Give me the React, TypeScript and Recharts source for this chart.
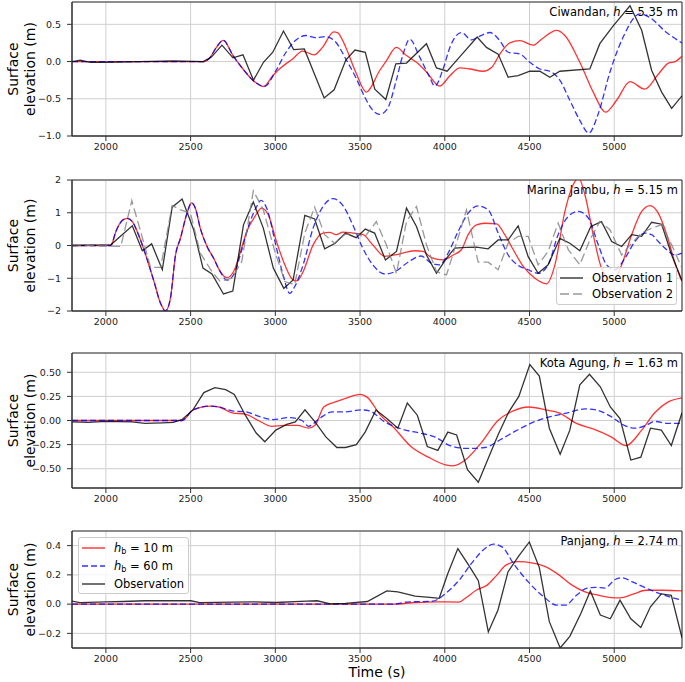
import React from 'react';
import { LineChart, Line, XAxis, YAxis, CartesianGrid, ReferenceArea, Legend } from 'recharts';

type P = [number, number];

// ---------- shared axis data ----------
const xTicks = [2000, 2500, 3000, 3500, 4000, 4500, 5000];
const xDomain: [number, number] = [1800, 5400];

// ---------- Panel 1: Ciwandan ----------
const p1Ticks = [-1, -0.5, 0, 0.5];
const p1TickLabels = ['−1.0', '−0.5', '0.0', '0.5'];
const p1Red: P[] = [[1800,0],[2580,0],[2613,0.05],[2652,0.19],[2693,0.285],[2750,0.08],[2809,-0.1],[2867,-0.25],[2930,-0.335],[2985,-0.19],[3024,-0.1],[3102,0.035],[3161,0.14],[3229,0.09],[3278,0.19],[3345,0.40],[3367,0.39],[3416,0.19],[3474,-0.14],[3537,-0.41],[3616,-0.12],[3655,0.01],[3714,0.19],[3774,0.08],[3833,-0.01],[3892,-0.14],[3970,-0.33],[4030,-0.19],[4089,-0.085],[4148,-0.1],[4226,-0.13],[4276,-0.08],[4325,0.10],[4384,0.25],[4443,0.28],[4522,0.22],[4571,0.30],[4660,0.42],[4709,0.35],[4797,-0.01],[4876,-0.41],[4949,-0.68],[5014,-0.52],[5093,-0.27],[5180,-0.37],[5260,-0.17],[5320,-0.02],[5360,0.0],[5400,0.07]];
const p1Blue: P[] = [[1800,0],[2580,0],[2613,0.05],[2652,0.19],[2693,0.285],[2750,0.08],[2809,-0.1],[2867,-0.25],[2935,-0.335],[3004,-0.12],[3063,0.125],[3122,0.29],[3180,0.35],[3239,0.32],[3298,0.335],[3357,0.26],[3416,0.035],[3474,-0.21],[3533,-0.5],[3570,-0.64],[3616,-0.71],[3660,-0.64],[3714,-0.25],[3754,0.1],[3793,0.30],[3852,0.06],[3911,-0.21],[3941,-0.33],[3990,-0.1],[4030,0.19],[4098,0.39],[4158,0.29],[4197,0.33],[4266,0.39],[4325,0.28],[4374,0.125],[4443,0.10],[4502,-0.01],[4561,-0.1],[4620,-0.13],[4679,-0.25],[4738,-0.52],[4797,-0.79],[4850,-0.96],[4906,-0.70],[4975,-0.14],[5053,0.33],[5152,0.64],[5211,0.59],[5309,0.39],[5400,0.25]];
const p1Obs: P[] = [[1800,0],[1849,0.02],[1908,-0.01],[2000,-0.01],[2200,0.0],[2400,0.01],[2574,0.0],[2623,0.06],[2685,0.22],[2750,0.05],[2809,0.09],[2871,-0.25],[2930,-0.01],[2985,0.125],[3048,0.41],[3108,0.16],[3171,0.17],[3288,-0.49],[3347,-0.38],[3416,0.02],[3470,0.155],[3531,0.125],[3587,-0.37],[3652,-0.51],[3711,-0.03],[3774,-0.02],[3892,0.24],[3951,-0.085],[4014,-0.13],[4079,0.04],[4191,0.33],[4246,0.19],[4315,0.10],[4374,-0.21],[4433,-0.19],[4502,-0.13],[4561,-0.13],[4620,-0.21],[4679,-0.13],[4856,-0.1],[4915,0.24],[4994,0.48],[5053,0.64],[5093,0.75],[5162,0.42],[5221,-0.12],[5280,-0.41],[5339,-0.63],[5400,-0.46]];

// ---------- Panel 2: Marina Jambu ----------
const p2Ticks = [-2, -1, 0, 1, 2];
const p2TickLabels = ['−2', '−1', '0', '1', '2'];
const p2Red: P[] = [[1800,0],[2029,0],[2059,0.43],[2098,0.77],[2127,0.83],[2156,0.73],[2196,0.28],[2235,-0.29],[2284,-1.1],[2323,-1.77],[2352,-2.0],[2381,-1.61],[2411,-0.29],[2440,0.22],[2479,0.99],[2505,1.30],[2528,1.14],[2557,0.53],[2597,-0.03],[2636,-0.39],[2675,-0.8],[2714,-0.98],[2753,-0.8],[2792,-0.23],[2831,0.43],[2880,0.89],[2919,1.14],[2958,0.94],[3007,0.12],[3056,-0.59],[3105,-1.05],[3128,-1.08],[3164,-0.8],[3223,0.02],[3281,0.38],[3320,0.40],[3359,0.33],[3399,0.41],[3457,0.38],[3516,0.34],[3575,0.02],[3646,-0.33],[3724,-0.27],[3823,-0.16],[3872,-0.18],[3921,-0.37],[3990,-0.44],[4049,-0.29],[4098,-0.13],[4138,0.33],[4187,0.63],[4236,0.68],[4305,0.66],[4354,0.33],[4404,-0.13],[4463,-0.64],[4532,-1.0],[4600,-1.17],[4650,-0.59],[4709,1.04],[4758,1.86],[4790,2.06],[4827,1.55],[4876,0.33],[4925,-0.69],[4990,-1.1],[5044,-0.59],[5103,0.33],[5162,1.04],[5211,1.22],[5260,0.99],[5310,0.33],[5359,-0.54],[5400,-1.1]];
const p2Blue: P[] = [[1800,0],[2029,0],[2059,0.43],[2098,0.77],[2127,0.83],[2156,0.73],[2196,0.28],[2235,-0.29],[2284,-1.1],[2323,-1.77],[2352,-2.0],[2381,-1.61],[2411,-0.29],[2440,0.22],[2479,0.99],[2505,1.30],[2528,1.14],[2557,0.53],[2597,-0.03],[2636,-0.39],[2675,-0.8],[2714,-1.06],[2753,-0.9],[2802,-0.13],[2851,0.73],[2890,1.19],[2915,1.38],[2949,1.14],[3007,-0.08],[3046,-0.9],[3085,-1.46],[3114,-1.26],[3164,-0.59],[3223,0.53],[3281,1.19],[3340,1.43],[3399,1.22],[3457,0.63],[3516,-0.08],[3575,-0.59],[3646,-0.87],[3705,-0.8],[3783,-0.51],[3860,-0.32],[3921,-0.54],[3970,-0.59],[4020,-0.23],[4079,0.43],[4138,0.99],[4197,1.21],[4256,1.09],[4315,0.38],[4374,-0.29],[4433,-0.61],[4492,-0.74],[4551,-0.85],[4610,-0.59],[4669,0.33],[4729,0.89],[4788,1.04],[4847,0.84],[4906,0.02],[4955,-0.59],[5004,-0.74],[5063,-0.39],[5122,0.12],[5181,0.38],[5221,0.33],[5260,0.12],[5310,-0.13],[5359,-0.29],[5400,-0.23]];
const p2Obs1: P[] = [[1800,0],[2029,0.02],[2156,0.6],[2215,-0.16],[2270,0.05],[2333,-0.74],[2391,1.17],[2450,1.42],[2518,0.48],[2573,-0.69],[2626,-0.87],[2694,-1.48],[2749,-1.39],[2812,0.63],[2870,1.33],[2929,0.53],[2988,-0.69],[3050,-1.31],[3105,-1.05],[3174,0.92],[3232,0.81],[3291,-0.1],[3353,0.07],[3414,0.38],[3477,0.24],[3531,0.5],[3586,0.38],[3650,-0.44],[3715,-0.18],[3774,1.14],[3833,0.58],[3892,-0.29],[3951,-0.85],[4010,-0.39],[4059,-0.08],[4128,-0.06],[4187,-0.05],[4256,-0.1],[4315,0.17],[4374,0.17],[4433,0.6],[4492,-0.34],[4551,-0.85],[4610,-0.59],[4679,0.22],[4738,0.07],[4797,-0.16],[4862,0.58],[4925,0.73],[4985,0.12],[5044,-0.03],[5103,0.33],[5162,0.28],[5221,0.71],[5280,0.65],[5339,-0.29],[5400,-1.08]];
const p2Obs2: P[] = [[1800,0.02],[2088,-0.03],[2153,1.37],[2205,0.43],[2264,-0.67],[2323,-0.67],[2391,1.22],[2440,1.09],[2499,0.99],[2557,-0.23],[2626,-0.80],[2675,-1.1],[2743,-1.0],[2802,-0.49],[2870,1.67],[2929,1.09],[2997,-0.18],[3056,-1.1],[3114,-1.2],[3174,0.38],[3232,1.17],[3291,0.33],[3350,0.07],[3408,0.33],[3467,0.38],[3526,0.25],[3596,0.73],[3655,0.02],[3715,-0.85],[3774,0.73],[3833,1.19],[3892,0.02],[3951,-0.8],[4010,-0.9],[4069,0.07],[4128,1.09],[4197,-0.51],[4256,-0.51],[4315,-0.74],[4374,0.07],[4433,0.28],[4492,0.28],[4551,-0.59],[4610,-0.18],[4669,0.68],[4729,-0.13],[4797,-0.59],[4856,0.17],[4915,0.73],[4975,0.48],[5044,-0.29],[5103,0.07],[5162,0.38],[5221,0.53],[5280,0.63],[5339,0.02],[5400,-0.69]];

// ---------- Panel 3: Kota Agung ----------
const p3Ticks = [-0.5, -0.25, 0, 0.25, 0.5];
const p3TickLabels = ['−0.50', '−0.25', '0.00', '0.25', '0.50'];
const p3Red: P[] = [[1800,0],[2450,0],[2514,0.11],[2617,0.15],[2668,0.14],[2745,0.08],[2823,0.065],[2900,0.0],[2977,-0.06],[3054,-0.05],[3131,-0.05],[3196,-0.08],[3234,-0.05],[3286,0.14],[3350,0.19],[3414,0.23],[3500,0.27],[3543,0.24],[3620,0.055],[3697,-0.07],[3800,-0.27],[3903,-0.38],[4005,-0.46],[4050,-0.47],[4121,-0.41],[4211,-0.24],[4314,0.0],[4404,0.10],[4494,0.14],[4596,0.11],[4674,0.08],[4777,-0.03],[4879,-0.09],[4982,-0.17],[5070,-0.26],[5162,-0.10],[5239,0.08],[5316,0.19],[5400,0.235]];
const p3Blue: P[] = [[1800,0],[2450,0],[2514,0.11],[2617,0.15],[2668,0.14],[2745,0.10],[2823,0.09],[2926,0.03],[2990,0.01],[3080,0.03],[3157,0.0],[3196,-0.06],[3260,0.02],[3337,0.09],[3414,0.09],[3504,0.11],[3555,0.10],[3645,-0.014],[3748,-0.09],[3851,-0.13],[3941,-0.17],[4031,-0.26],[4134,-0.29],[4237,-0.28],[4327,-0.20],[4417,-0.11],[4520,-0.02],[4623,0.04],[4725,0.08],[4828,0.12],[4892,0.11],[4982,0.04],[5059,-0.05],[5124,-0.08],[5188,-0.05],[5239,-0.01],[5316,-0.03],[5400,-0.03]];
const p3Obs: P[] = [[1800,-0.014],[1897,-0.02],[2000,-0.01],[2154,-0.014],[2231,-0.03],[2334,-0.025],[2398,-0.02],[2450,0.01],[2514,0.11],[2578,0.29],[2643,0.34],[2707,0.32],[2758,0.27],[2823,0.055],[2887,-0.13],[2938,-0.22],[3003,-0.10],[3067,-0.04],[3118,-0.014],[3175,0.11],[3234,-0.014],[3298,-0.17],[3363,-0.28],[3414,-0.28],[3478,-0.25],[3530,-0.12],[3594,0.11],[3658,0.02],[3723,-0.08],[3779,0.18],[3838,0.055],[3897,-0.27],[3959,-0.31],[4018,-0.12],[4070,-0.15],[4134,-0.51],[4198,-0.64],[4255,-0.40],[4314,-0.15],[4378,0.09],[4437,0.25],[4502,0.58],[4558,0.46],[4617,-0.08],[4681,-0.35],[4738,-0.10],[4797,0.37],[4854,0.48],[4918,0.35],[4977,0.14],[5034,0.02],[5098,-0.41],[5157,-0.38],[5214,-0.08],[5278,-0.10],[5337,-0.26],[5400,0.08]];

// ---------- Panel 4: Panjang ----------
const p4Ticks = [-0.2, 0, 0.2, 0.4];
const p4TickLabels = ['−0.2', '0.0', '0.2', '0.4'];
const p4Red: P[] = [[1800,0],[3697,0],[3825,0.011],[3954,0.016],[4082,0.014],[4121,0.04],[4185,0.095],[4250,0.13],[4301,0.19],[4365,0.27],[4430,0.29],[4520,0.28],[4597,0.255],[4674,0.2],[4751,0.13],[4828,0.084],[4905,0.061],[4982,0.045],[5034,0.043],[5111,0.068],[5188,0.095],[5291,0.095],[5400,0.091]];
const p4Blue: P[] = [[1800,0],[3700,0],[3774,0.014],[3928,0.02],[4005,0.073],[4082,0.16],[4159,0.28],[4237,0.38],[4288,0.41],[4340,0.39],[4404,0.28],[4494,0.15],[4584,0.05],[4661,-0.007],[4712,-0.007],[4777,0.06],[4841,0.11],[4892,0.115],[4943,0.11],[5008,0.17],[5046,0.18],[5111,0.15],[5188,0.11],[5265,0.073],[5342,0.045],[5400,0.027]];
const p4Obs: P[] = [[1800,0.02],[1846,0.01],[2000,0.016],[2103,0.018],[2231,0.023],[2360,0.023],[2501,0.023],[2553,0.01],[2746,0.014],[2874,0.016],[3003,0.011],[3183,0.02],[3247,0.023],[3324,0.002],[3414,0.005],[3543,0.018],[3658,0.09],[3723,0.084],[3825,0.055],[3928,0.045],[3967,0.04],[4018,0.21],[4077,0.38],[4139,0.27],[4198,0.16],[4257,-0.19],[4314,-0.04],[4373,0.22],[4437,0.33],[4499,0.425],[4558,0.25],[4617,-0.12],[4681,-0.30],[4738,-0.22],[4803,-0.064],[4859,0.09],[4918,-0.075],[4977,-0.1],[5034,0.027],[5098,-0.1],[5157,-0.16],[5214,-0.018],[5278,0.07],[5337,0.06],[5400,-0.23]];

const FONT = '"DejaVu Sans", sans-serif';
const MT = 8; // chart top margin

const RED = { stroke: '#ff0000', dash: undefined as string | undefined, smooth: true };
const BLUE = { stroke: '#0000ff', dash: '6 3', smooth: true };
const BLACK = { stroke: '#000000', dash: undefined as string | undefined, smooth: false };
const GRAY = { stroke: '#808080', dash: '9 4', smooth: false };

type Series = { key: string; data: P[]; style: { stroke: string; dash?: string; smooth: boolean } };

const toRows = (pts: P[]) => pts.map(([t, v]) => ({ t, v }));

const YLab = (props: any) => {
  const vb = props.viewBox || { y: 0, height: 0 };
  const cy = vb.y + vb.height / 2;
  return (
    <g>
      <text transform={`translate(13, ${cy}) rotate(-90)`} textAnchor="middle" dominantBaseline="central"
        fontFamily={FONT} fontSize={14} fill="#000">Surface</text>
      <text transform={`translate(30, ${cy}) rotate(-90)`} textAnchor="middle" dominantBaseline="central"
        fontFamily={FONT} fontSize={14} fill="#000">elevation (m)</text>
    </g>
  );
};

const makeTitle = (name: string, h: string) => (props: any) => {
  const vb = props.viewBox || { x: 0, y: 0, width: 0 };
  return (
    <text x={vb.x + vb.width - 4} y={vb.y + 10} textAnchor="end" dominantBaseline="central"
      fontFamily={FONT} fontSize={11.5} fill="#000">
      {name}, <tspan fontStyle="italic">h</tspan> = {h} m
    </text>
  );
};

type LegItem = { label: React.ReactNode; stroke: string; dash?: string };

const LegendBox = ({ items, rowH, padTop }: { items: LegItem[]; rowH: number; padTop: number }) => (
  <div style={{
    width: '100%', height: '100%', boxSizing: 'border-box', border: '1px solid #cccccc', borderRadius: 3,
    background: 'rgba(255,255,255,0.8)', fontFamily: FONT, fontSize: 11.5, color: '#000',
    paddingTop: padTop, paddingLeft: 3,
  }}>
    {items.map((it, i) => (
      <div key={i} style={{ display: 'flex', alignItems: 'center', height: rowH, whiteSpace: 'nowrap' }}>
        <svg width={23} height={8} style={{ flex: 'none' }}>
          <line x1={0} y1={4} x2={23} y2={4} stroke={it.stroke} strokeOpacity={0.8} strokeWidth={1.4}
            strokeDasharray={it.dash} />
        </svg>
        <span style={{ marginLeft: 9, lineHeight: `${rowH}px` }}>{it.label}</span>
      </div>
    ))}
  </div>
);

const p2LegendItems: LegItem[] = [
  { label: 'Observation 1', stroke: BLACK.stroke },
  { label: 'Observation 2', stroke: GRAY.stroke, dash: GRAY.dash },
];
const p4LegendItems: LegItem[] = [
  { label: <span><i>h</i><sub style={{ fontSize: '0.7em', verticalAlign: '-0.3em', lineHeight: 0 }}>b</sub> = 10 m</span>, stroke: RED.stroke },
  { label: <span><i>h</i><sub style={{ fontSize: '0.7em', verticalAlign: '-0.3em', lineHeight: 0 }}>b</sub> = 60 m</span>, stroke: BLUE.stroke, dash: BLUE.dash },
  { label: 'Observation', stroke: BLACK.stroke },
];

type PanelProps = {
  plotTop: number; plotH: number; xAxisH: number; domain: [number, number];
  ticks: number[]; tickLabels: string[]; series: Series[]; name: string; h: string;
  legend?: { items: LegItem[]; left: number; top: number; width: number; height: number; rowH: number; padTop: number };
  xLabel?: string;
};

const Panel = (p: PanelProps) => {
  const height = MT + p.plotH + p.xAxisH;
  const top = p.plotTop - MT;
  const fmt = (v: number) => {
    const i = p.ticks.findIndex((t) => Math.abs(t - v) < 1e-9);
    return i >= 0 ? p.tickLabels[i] : String(v);
  };
  return (
    <div style={{ position: 'absolute', left: 0, top }}>
      <LineChart width={685} height={height} margin={{ top: MT, right: 3, bottom: 0, left: 0 }}>
        <CartesianGrid stroke="#cfcfcf" strokeWidth={1} />
        <XAxis type="number" dataKey="t" domain={xDomain} ticks={xTicks} allowDataOverflow interval={0}
          height={p.xAxisH} tickSize={5} tickMargin={2} stroke="#333"
          tick={{ fontSize: 9.5, fill: '#222', fontFamily: FONT }}
          label={p.xLabel ? { value: p.xLabel, position: 'insideBottom', offset: 5, style: { fontSize: 14, fill: '#000', fontFamily: FONT } } : undefined} />
        <YAxis type="number" domain={p.domain} ticks={p.ticks} allowDataOverflow interval={0} width={72}
          tickSize={5} tickMargin={6} stroke="#333" tickFormatter={fmt}
          tick={{ fontSize: 9.5, fill: '#222', fontFamily: FONT }}
          label={{ content: <YLab /> } as any} />
        {p.series.map((s) => (
          <Line key={s.key} data={toRows(s.data)} dataKey="v" type={s.style.smooth ? 'monotone' : 'linear'}
            stroke={s.style.stroke} strokeOpacity={0.8} strokeWidth={1.3} strokeDasharray={s.style.dash}
            dot={false} activeDot={false} isAnimationActive={false} />
        ))}
        <ReferenceArea x1={xDomain[0]} x2={xDomain[1]} y1={p.domain[0]} y2={p.domain[1]} fill="none"
          fillOpacity={0} stroke="#333" strokeWidth={1} ifOverflow="visible"
          label={{ content: makeTitle(p.name, p.h) } as any} />
        {p.legend && (
          <Legend layout="horizontal" verticalAlign="middle" align="center"
            wrapperStyle={{ left: p.legend.left, top: p.legend.top - top, width: p.legend.width, height: p.legend.height }}
            content={() => <LegendBox items={p.legend!.items} rowH={p.legend!.rowH} padTop={p.legend!.padTop} />} />
        )}
      </LineChart>
    </div>
  );
};

export default function App() {
  return (
    <div style={{ position: 'absolute', left: 0, top: 0, width: 685, height: 682, background: '#fff', overflow: 'hidden' }}>
      <Panel plotTop={2} plotH={134} xAxisH={24} domain={[-1, 0.8]} ticks={p1Ticks} tickLabels={p1TickLabels}
        name="Ciwandan" h="5.35"
        series={[{ key: 'r', data: p1Red, style: RED }, { key: 'b', data: p1Blue, style: BLUE }, { key: 'o', data: p1Obs, style: BLACK }]} />
      <Panel plotTop={180} plotH={131} xAxisH={24} domain={[-2, 2]} ticks={p2Ticks} tickLabels={p2TickLabels}
        name="Marina Jambu" h="5.15"
        series={[{ key: 'r', data: p2Red, style: RED }, { key: 'b', data: p2Blue, style: BLUE }, { key: 'o1', data: p2Obs1, style: BLACK }, { key: 'o2', data: p2Obs2, style: GRAY }]}
        legend={{ items: p2LegendItems, left: 556, top: 267, width: 121, height: 38, rowH: 16, padTop: 2 }} />
      <Panel plotTop={353} plotH={135} xAxisH={24} domain={[-0.7, 0.7]} ticks={p3Ticks} tickLabels={p3TickLabels}
        name="Kota Agung" h="1.63"
        series={[{ key: 'r', data: p3Red, style: RED }, { key: 'b', data: p3Blue, style: BLUE }, { key: 'o', data: p3Obs, style: BLACK }]} />
      <Panel plotTop={531} plotH={117} xAxisH={34} domain={[-0.3, 0.5]} ticks={p4Ticks} tickLabels={p4TickLabels}
        name="Panjang" h="2.74" xLabel="Time (s)"
        series={[{ key: 'r', data: p4Red, style: RED }, { key: 'b', data: p4Blue, style: BLUE }, { key: 'o', data: p4Obs, style: BLACK }]}
        legend={{ items: p4LegendItems, left: 78, top: 537, width: 111, height: 57, rowH: 18, padTop: 1 }} />
    </div>
  );
}
